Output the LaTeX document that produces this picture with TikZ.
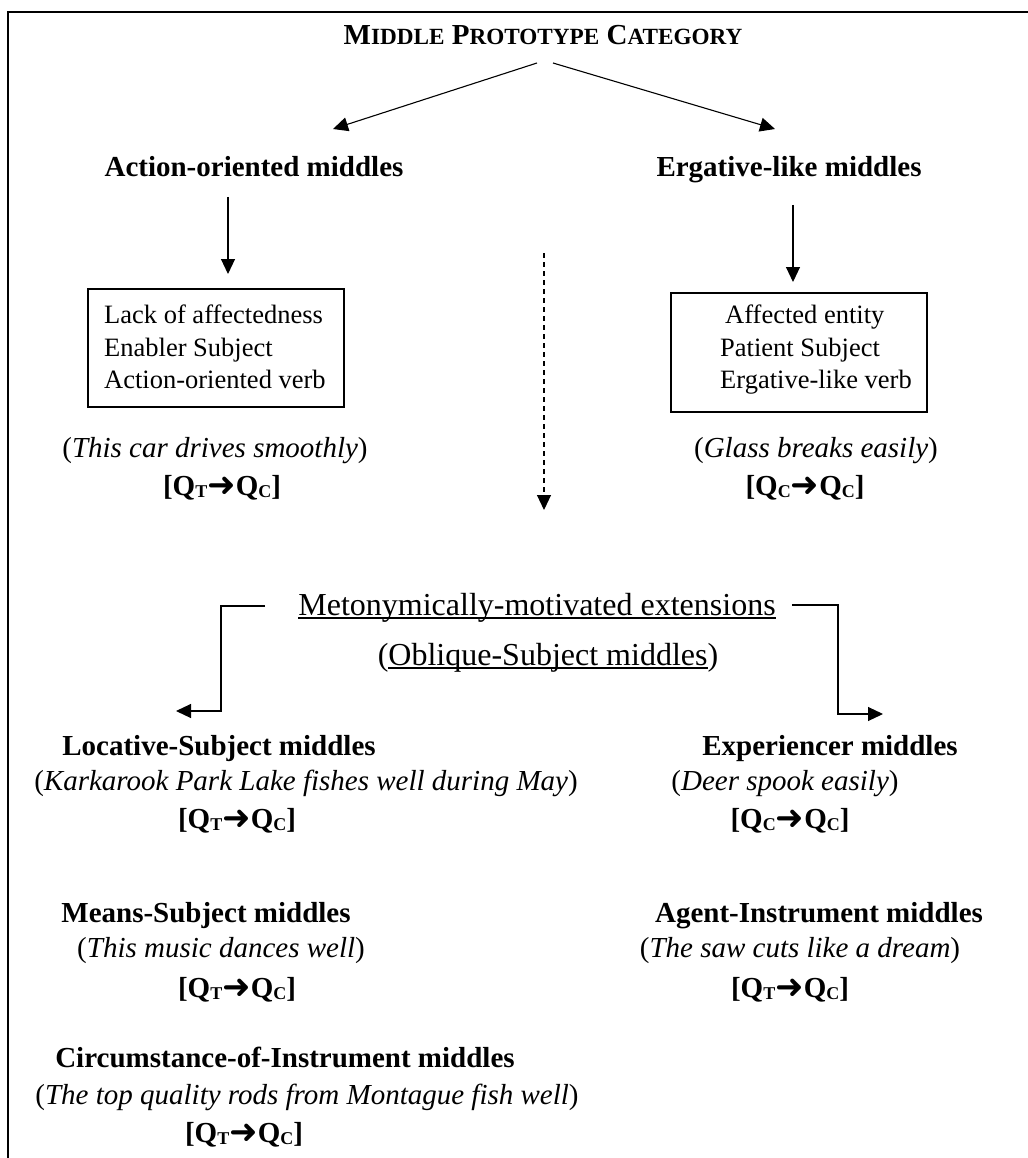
\documentclass[tikz,border=0pt]{standalone}
\usepackage{fontspec}
\setmainfont{Liberation Serif}
\newfontfamily\symfont{DejaVu Sans}
\usetikzlibrary{arrows.meta,calc}

% small capitals made from scaled upper-case letters
\newcommand\scap[1]{{\fontsize{23.2}{23}\selectfont #1}}
% underline that runs through the descenders
\newcommand\ulx[1]{\setbox0\hbox{#1}\rlap{\rule[-4pt]{\wd0}{1.8pt}}\box0}
% quality formula [Q_x -> Q_y]
\newcommand\qsub[1]{\raisebox{-2pt}{\fontsize{18}{18}\selectfont #1}}
\newcommand\qarrow{{\symfont\fontsize{34}{34}\selectfont\raisebox{-1pt}{➜}}}
\newcommand\qform[2]{[Q\qsub{#1}\qarrow Q\qsub{#2}]}
\newcommand\exmp[1]{(\textit{#1})}

\begin{document}
\begin{tikzpicture}[x=1pt,y=-1pt,
  txt/.style={inner sep=0pt, anchor=base},
  headstyle/.style={txt, font=\fontsize{29}{29}\selectfont\bfseries},
  exstyle/.style={txt, font=\fontsize{29}{29}\selectfont},
  qstyle/.style={txt, font=\fontsize{29}{29}\selectfont\bfseries},
  extstyle/.style={txt, font=\fontsize{32}{32}\selectfont},
  featline/.style={inner sep=0pt, anchor=base west, font=\fontsize{26.5}{33}\selectfont},
  featbox/.style={draw, line width=2pt, inner sep=0pt, minimum width=256pt},
  conn/.style={line width=1.1pt, -{Triangle[width=14pt,length=15pt]}},
  dashconn/.style={conn, dash pattern=on 5pt off 4pt}
]
\useasboundingbox (0,0) rectangle (1027,1158);

% outer frame
\draw[line width=1.5pt] (8,1162) -- (8,12) -- (1031,12);

% title and the two prototype branches
\node[txt, font=\fontsize{29}{29}\selectfont\bfseries] (title) at (543,45)
  {M\scap{IDDLE} P\scap{ROTOTYPE} C\scap{ATEGORY}};

\node[headstyle] (act) at (254,177) {Action-oriented middles};
\node[headstyle] (erg) at (789,177) {Ergative-like middles};

\coordinate (apexL) at (537,63);
\coordinate (apexR) at (553,63);
\coordinate (tipL) at (333,129);
\coordinate (tipR) at (775,129);
\draw[conn] (apexL) -- (tipL);
\draw[conn] (apexR) -- (tipR);

% feature boxes
\node[featbox, minimum height=118pt] (actbox) at (216,348) {};
\node[featline] (a1) at (104,323) {Lack of affectedness};
\node[featline] (a2) at (104,356) {Enabler Subject};
\node[featline] (a3) at (104,388) {Action-oriented verb};

\node[featbox, minimum height=119pt] (ergbox) at (799,352.5) {};
\node[featline] (e1) at (725,323) {Affected entity};
\node[featline] (e2) at (720,356) {Patient Subject};
\node[featline] (e3) at (720,388) {Ergative-like verb};

\coordinate (actdown) at (228,197);
\coordinate (actin) at (228,274);
\coordinate (ergdown) at (793,205);
\coordinate (ergin) at (793,282);
\draw[conn] (actdown) -- (actin);
\draw[conn] (ergdown) -- (ergin);

% examples of the prototypes
\node[exstyle] (actex) at (215,457) {\exmp{This car drives smoothly}};
\node[qstyle] (actq) at (222,495) {\qform{T}{C}};
\node[exstyle] (ergex) at (816,457) {\exmp{Glass breaks easily}};
\node[qstyle] (ergq) at (805,495) {\qform{C}{C}};

% dashed extension link
\coordinate (dtop) at (544,253);
\coordinate (dbot) at (544,510);
\draw[dashconn] (dtop) -- (dbot);

% metonymic extensions
\node[extstyle] (met) at (537,615) {\ulx{Metonymically-motivated extensions}};
\node[extstyle] (obl) at (548,665) {(\ulx{Oblique-Subject middles})};

\coordinate (lout) at ($(met.base west)+(-33,-9)$);
\coordinate (rout) at ($(met.base east)+(16,-10)$);
\coordinate (ltip) at (176,711);
\coordinate (rtip) at (883,714);
\draw[conn] (lout) -| (221,711) -- (ltip);
\draw[conn] (rout) -| (838,714) -- (rtip);

% oblique-subject middles
\node[headstyle] (loc) at (219,755) {Locative-Subject middles};
\node[exstyle] (locex) at (306,790) {\exmp{Karkarook Park Lake fishes well during May}};
\node[qstyle] (locq) at (237,828) {\qform{T}{C}};

\node[headstyle] (exper) at (830,755) {Experiencer middles};
\node[exstyle] (experex) at (785,790) {\exmp{Deer spook easily}};
\node[qstyle] (experq) at (790,828) {\qform{C}{C}};

\node[headstyle] (means) at (206,922) {Means-Subject middles};
\node[exstyle] (meansex) at (221,957) {\exmp{This music dances well}};
\node[qstyle] (meansq) at (237,997) {\qform{T}{C}};

\node[headstyle] (agent) at (819,922) {Agent-Instrument middles};
\node[exstyle] (agentex) at (800,957) {\exmp{The saw cuts like a dream}};
\node[qstyle] (agentq) at (790,997) {\qform{T}{C}};

\node[headstyle] (circ) at (285,1067) {Circumstance-of-Instrument middles};
\node[exstyle] (circex) at (307,1104) {\exmp{The top quality rods from Montague fish well}};
\node[qstyle] (circq) at (244,1142) {\qform{T}{C}};
\end{tikzpicture}
\end{document}
